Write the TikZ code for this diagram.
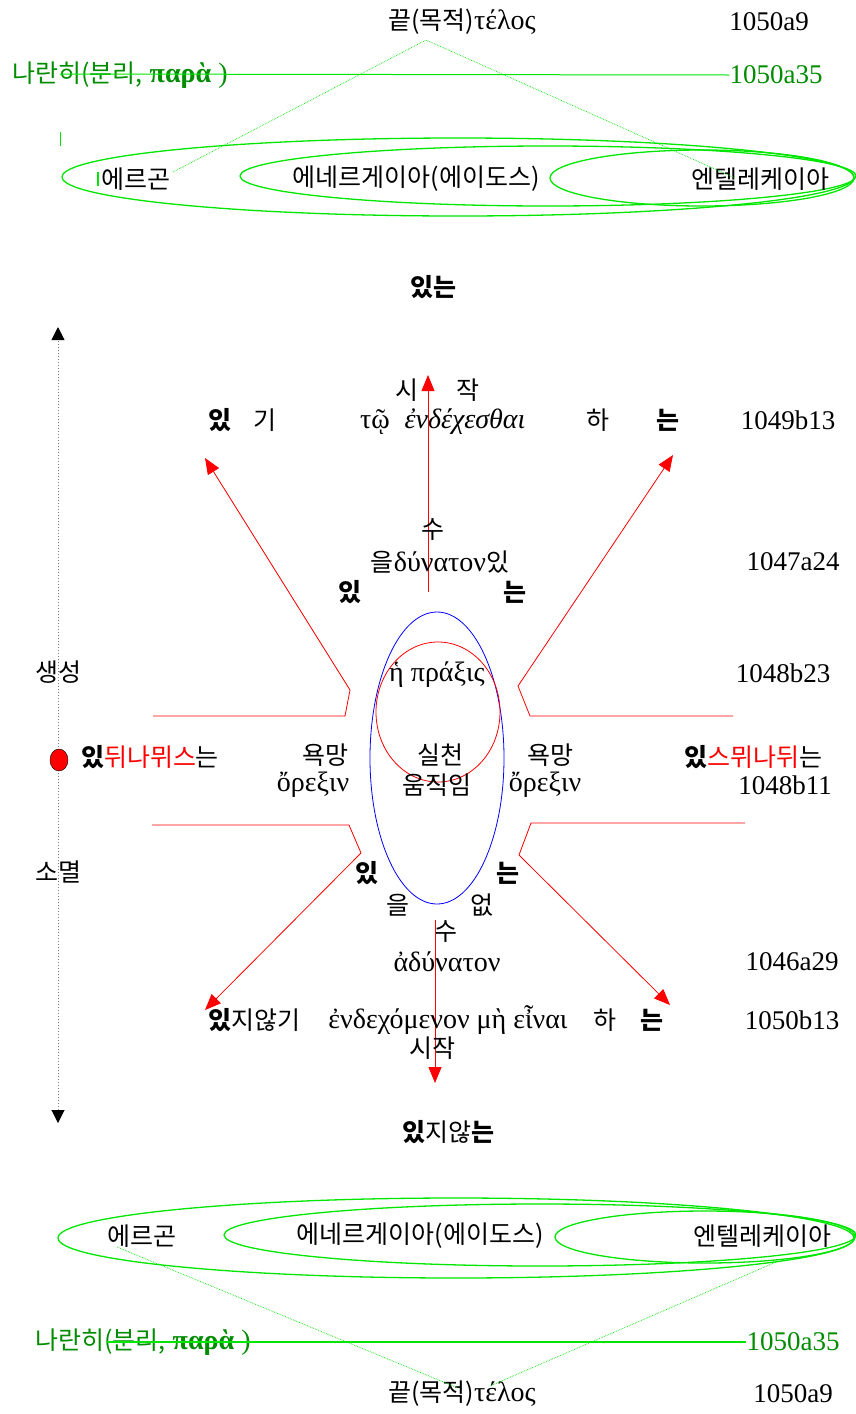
\documentclass[tikz,border=0pt]{standalone}
\usepackage{fontspec}
\setmainfont{Liberation Serif}
\newfontfamily\kr{Noto Sans CJK KR}
\newcommand\hg[1]{{\kr\fontsize{25}{28}\selectfont #1}}
\usetikzlibrary{arrows.meta,shapes.geometric}
\definecolor{linegreen}{RGB}{0,230,0}
\definecolor{textgreen}{RGB}{0,140,0}
\tikzset{
  kor/.style={inner sep=0pt, font=\kr\fontsize{25}{28}\selectfont},
  korb/.style={inner sep=0pt, font=\kr\bfseries\fontsize{25}{28}\selectfont},
  greek/.style={inner sep=0pt, font=\fontsize{28}{31}\selectfont},
  refno/.style={inner sep=0pt, font=\fontsize{27}{30}\selectfont},
  ring/.style={linegreen, line width=1.3pt},
  guide/.style={linegreen, densely dotted, line width=0.7pt},
  redline/.style={red, line width=0.8pt},
  way/.style={redline, -{Triangle[length=16pt, width=13pt]}},
  time axis/.style={gray, dotted, line width=1pt,
    {Triangle[length=13pt, width=13pt, black]}-{Triangle[length=13pt, width=13pt, black]}},
}
\begin{document}
\begin{tikzpicture}[x=1pt,y=-1pt]
  \useasboundingbox (0,0) rectangle (856,1414);

  % Top: telos and para
  \node[greek] (telosTop) at (462,22) {\hg{끝(목적)}τέλος};
  \node[refno] (a9Top) at (769,22) {1050a9};
  \node[greek, text=textgreen] (paraTop) at (120,75) {\hg{나란히(분리,} \textbf{παρὰ} )};
  \node[refno, text=textgreen] (a35Top) at (776,75) {1050a35};
  \coordinate (paraTopStart) at (60,74);
  \draw[linegreen, line width=1pt] (paraTopStart) -- (a35Top.west);

  % Top ellipses
  \draw[ring] (458,177) ellipse [x radius=396pt, y radius=39pt];
  \draw[ring] (548,176) ellipse [x radius=308pt, y radius=30pt];
  \draw[ring] (702,178) ellipse [x radius=152pt, y radius=28pt];
  \node[kor] (ergonTop) at (136,179) {에르곤};
  \node[kor] (energeiaTop) at (416,179) {에네르게이아(에이도스)};
  \node[kor] (entelTop) at (760,179) {엔텔레케이아};
  \draw[linegreen, line width=1pt] (60,132) -- (60,146);
  \draw[linegreen, line width=2pt] (98,172) -- (98,186);

  % Top dotted guides
  \coordinate (apexTop) at (426,40);
  \coordinate (ergonTopFoot) at (173,172);
  \coordinate (entelTopFoot) at (735,178);
  \draw[guide] (ergonTopFoot) -- (apexTop) -- (entelTopFoot);

  \node[korb] (beingTitle) at (433,287) {있는};

  % Time axis
  \coordinate (axTop) at (58,327);
  \coordinate (axBot) at (58,1123);
  \draw[time axis] (axBot) -- (axTop);
  \node[ellipse, draw=black, fill=red, minimum width=18pt, minimum height=22pt, inner sep=0pt] (seed) at (59,760) {};
  \node[kor] (genesis) at (58,672) {생성};
  \node[kor] (decay) at (58,872) {소멸};

  % Upper half
  \coordinate (upFoot) at (428,592);
  \coordinate (upTip) at (428,375);
  \draw[way] (upFoot) -- (upTip);
  \node[kor] (siUp) at (407,390) {시};
  \node[kor] (jakUp) at (468,390) {작};
  \node[korb] (itUp) at (220,420) {있};
  \node[kor] (giUp) at (265,420) {기};
  \node[greek] (toUp) at (375,422) {τῷ};
  \node[greek, font=\itshape\fontsize{28}{31}\selectfont] (endexUp) at (465,422) {ἐνδέχεσθαι};
  \node[kor] (haUp) at (598,420) {하};
  \node[korb] (neunUp) at (668,420) {는};
  \node[refno] (b13Up) at (788,420) {1049b13};
  \node[kor] (suUp) at (433,530) {수};
  \node[greek] (dynaton) at (440,562) {\hg{을}δύνατον\hg{있}};
  \node[refno] (a24) at (793,562) {1047a24};
  \node[korb] (itMidUp) at (350,592) {있};
  \node[korb] (neunMidUp) at (515,592) {는};

  % Upper bent arrows
  \coordinate (ulStart) at (153,716);
  \coordinate (ulKnee) at (345,716);
  \coordinate (ulBend) at (350,690);
  \coordinate (ulTip) at (205,458);
  \draw[way] (ulStart) -- (ulKnee) -- (ulBend) -- (ulTip);
  \coordinate (urStart) at (733,716);
  \coordinate (urKnee) at (530,716);
  \coordinate (urBend) at (518,686);
  \coordinate (urTip) at (673,455);
  \draw[way] (urStart) -- (urKnee) -- (urBend) -- (urTip);

  % Centre
  \draw[blue, line width=0.8pt] (437,758) ellipse [x radius=67pt, y radius=146pt];
  \draw[redline] (438,712) ellipse [x radius=62pt, y radius=70pt];
  \node[greek] (praxis) at (437,675) {ἡ πράξις};
  \node[refno] (b23) at (783,673) {1048b23};
  \node[kor] (dynamisL) at (150,757) {\textbf{있}\textcolor{red}{뒤나뮈스}는};
  \node[kor] (desireL) at (325,755) {욕망};
  \node[greek] (orexisL) at (313,785) {ὄρεξιν};
  \node[kor] (practice) at (440,755) {실천};
  \node[kor] (motion) at (437,785) {움직임};
  \node[kor] (desireR) at (550,755) {욕망};
  \node[greek] (orexisR) at (545,785) {ὄρεξιν};
  \node[kor] (dynamisR) at (753,757) {\textbf{있}\textcolor{red}{스뮈나뒤}는};
  \node[refno] (b11) at (785,785) {1048b11};

  % Lower bent arrows
  \coordinate (llStart) at (152,825);
  \coordinate (llKnee) at (349,825);
  \coordinate (llBend) at (361,853);
  \coordinate (llTip) at (205,1010);
  \draw[way] (llStart) -- (llKnee) -- (llBend) -- (llTip);
  \coordinate (lrStart) at (745,823);
  \coordinate (lrKnee) at (531,823);
  \coordinate (lrBend) at (519,855);
  \coordinate (lrTip) at (670,1005);
  \draw[way] (lrStart) -- (lrKnee) -- (lrBend) -- (lrTip);

  % Lower half
  \node[korb] (itMidDn) at (367,873) {있};
  \node[korb] (neunMidDn) at (508,873) {는};
  \node[kor] (eulDn) at (398,905) {을};
  \node[kor] (eopDn) at (482,905) {없};
  \node[kor] (suDn) at (446,932) {수};
  \node[greek] (adynaton) at (447,962) {ἀδύνατον};
  \node[refno] (a29) at (792,962) {1046a29};
  \coordinate (downFoot) at (435,920);
  \coordinate (downTip) at (435,1083);
  \draw[way] (downFoot) -- (downTip);
  \node[kor] (notBeDn) at (254,1020) {\textbf{있}지않기};
  \node[greek] (endexDn) at (448,1020) {ἐνδεχόμενον μὴ εἶναι};
  \node[kor] (haDn) at (605,1020) {하};
  \node[korb] (neunDn) at (652,1020) {는};
  \node[refno] (b13Dn) at (792,1020) {1050b13};
  \node[kor] (sijakDn) at (432,1048) {시작};
  \node[kor] (notBeingTitle) at (448,1132) {\textbf{있}지않\textbf{는}};

  % Bottom ellipses
  \draw[ring] (456,1238) ellipse [x radius=398pt, y radius=40pt];
  \draw[ring] (540,1235) ellipse [x radius=316pt, y radius=31pt];
  \draw[ring] (705,1237) ellipse [x radius=150pt, y radius=26pt];
  \node[kor] (ergonBot) at (142,1236) {에르곤};
  \node[kor] (energeiaBot) at (420,1236) {에네르게이아(에이도스)};
  \node[kor] (entelBot) at (762,1236) {엔텔레케이아};

  % Bottom: para and telos
  \node[greek, text=textgreen] (paraBot) at (143,1342) {\hg{나란히(분리,} \textbf{παρὰ} )};
  \node[refno, text=textgreen] (a35Bot) at (793,1342) {1050a35};
  \coordinate (paraBotStart) at (107,1342);
  \draw[linegreen, line width=1.3pt] (paraBotStart) -- (a35Bot.west);
  \node[greek] (telosBot) at (462,1394) {\hg{끝(목적)}τέλος};
  \node[refno] (a9Bot) at (793,1394) {1050a9};

  % Bottom dotted guides
  \coordinate (ergonBotFoot) at (117,1247);
  \coordinate (telosBotL) at (458,1388);
  \coordinate (entelBotFoot) at (776,1262);
  \coordinate (telosBotR) at (490,1386);
  \draw[guide] (ergonBotFoot) -- (telosBotL);
  \draw[guide] (entelBotFoot) -- (telosBotR);
\end{tikzpicture}
\end{document}
